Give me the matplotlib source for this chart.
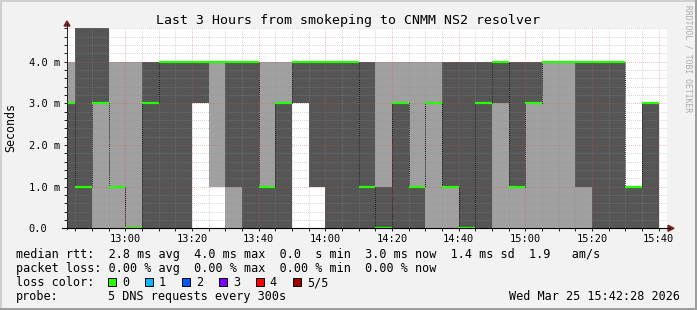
import matplotlib
matplotlib.use("Agg")
import matplotlib.pyplot as plt
from matplotlib.patches import Rectangle, Polygon
from matplotlib.lines import Line2D
import numpy as np

'''Data: smokeping DNS probe, 5 pings per 300s step'''
# step start, minutes after 12:00
step_start = list(range(40, 220, 5))
# the five sorted rtts of each step (ms), values above 4.8 are off the chart
ping_1 = [0, 0, 0, 0, 0, 0, 0, 0, 3, 1, 0, 0, 0, 0, 3, 1, 0, 0,
          0, 0, 0, 0, 0, 0, 0, 0, 0, 0, 0, 0, 0, 0, 0, 0, 0, 0]
ping_2 = [0, 0, 3, 1, 0, 0, 0, 0, 3, 4, 1, 0, 0, 0, 3, 1, 0, 0,
          0, 0, 0, 0, 3, 1, 0, 0, 3, 1, 3, 4, 4, 1, 0, 0, 0, 0]
ping_3 = [3, 1, 3, 1, 0, 3, 4, 4, 4, 4, 4, 4, 1, 3, 4, 4, 4, 4,
          1, 0, 3, 1, 3, 1, 0, 3, 4, 1, 3, 4, 4, 4, 4, 4, 1, 3]
ping_4 = [3, 5.5, 5.5, 1, 0, 4, 4, 4, 4, 4, 4, 4, 1, 3, 4, 4, 4, 4,
          4, 1, 3, 1, 3, 4, 4, 4, 4, 4, 4, 4, 4, 4, 4, 4, 1, 3]
ping_5 = [4, 5.5, 5.5, 4, 4, 4, 4, 4, 4, 4, 4, 4, 4, 4, 4, 4, 4, 4,
          4, 4, 4, 4, 4, 4, 4, 4, 4, 4, 4, 4, 4, 4, 4, 4, 1, 3]
median = ping_3

x_ticks = [60, 80, 100, 120, 140, 160, 180, 200, 220]
x_labels = ["13:00", "13:20", "13:40", "14:00", "14:20", "14:40", "15:00", "15:20", "15:40"]
y_ticks = [0, 1, 2, 3, 4]
y_labels = ["0.0", "1.0 m", "2.0 m", "3.0 m", "4.0 m"]

title = "Last 3 Hours from smokeping to CNMM NS2 resolver"
legend_lines = [
    "median rtt:  2.8 ms avg  4.0 ms max  0.0  s min  3.0 ms now  1.4 ms sd  1.9   am/s",
    "packet loss: 0.00 % avg  0.00 % max  0.00 % min  0.00 % now",
]
loss_labels = ["0", "1", "2", "3", "4", "5/5"]
loss_colors = ["#26ff00", "#00b8ff", "#0059ff", "#7e00ff", "#ff0000", "#a10000"]
probe_text = "5 DNS requests every 300s"
stamp = "Wed Mar 25 15:42:28 2026"

W, H = 697, 310
BACK = "#f2f2f2"
DARK = "#555555"
LIGHT = "#a0a0a0"


def px(x, y):
    return x / W, 1 - y / H


plt.rcParams['font.family'] = ['DejaVu Sans Mono']
fig = plt.figure(figsize=(W / 100, H / 100), dpi=100, facecolor=BACK)
ax = fig.add_axes([67 / W, (H - 228.3) / H, 600 / W, 200 / H])
ax.set_facecolor("white")

# smoke
edges = np.array(step_start + [step_start[-1] + 5])
def ext(v):
    return list(v) + [v[-1]]
ax.fill_between(edges, ext(ping_1), ext(ping_5), step='post', color=LIGHT, lw=0, zorder=1)
ax.fill_between(edges, ext(ping_2), ext(ping_4), step='post', color=DARK, lw=0, zorder=1.1)

# median line: black dotted joins, green (0 loss) steps
ax.step(edges, ext(median), where='post', color='black', lw=0.7, ls=(0, (1, 1)), zorder=2)
ax.hlines(median, edges[:-1], edges[1:], colors=loss_colors[0], lw=1.6, zorder=4)

ax.set_xlim(42 + 28 / 60, 222 + 28 / 60)
ax.set_ylim(0, 4.8)

ax.set_xticks(x_ticks)
ax.set_xticklabels(x_labels)
ax.set_xticks(np.arange(45, 221, 5), minor=True)
ax.set_yticks(y_ticks)
ax.set_yticklabels(y_labels)
ax.set_yticks(np.arange(0, 4.81, 0.2), minor=True)

ax.set_axisbelow(False)
ax.grid(which='minor', color='#8f8f8f', alpha=0.55, lw=0.7, ls=(0, (0.7, 1.4)))
ax.grid(which='major', color='#de5050', alpha=0.55, lw=0.7, ls=(0, (0.7, 1.4)))

for s in ax.spines.values():
    s.set_visible(False)
ax.tick_params(which='both', length=2, width=0.7, color='#202020', labelsize=7.45)
ax.tick_params(axis='x', which='both', pad=2)
ax.tick_params(axis='y', which='both', pad=25.7)
for lbl in ax.get_yticklabels():
    lbl.set_ha('left')

ax.set_ylabel("Seconds", fontsize=8.4)
ax.yaxis.label.set_va('center')
ax.yaxis.set_label_coords((11 - 67) / 600, (228.3 - 127.5) / 200)

# axes lines and arrows
fig.add_artist(Line2D([px(67, 0)[0]] * 2, [px(0, 229)[1], px(0, 24)[1]], color='#202020', lw=0.7))
fig.add_artist(Line2D([px(62, 0)[0], px(670, 0)[0]], [px(0, 228.3)[1]] * 2, color='black', lw=0.8))
fig.add_artist(Polygon([px(64, 26), px(70, 26), px(67, 21)], closed=True, color='#7f1f1f', transform=fig.transFigure))
fig.add_artist(Polygon([px(668, 225.3), px(668, 231.3), px(674, 228.3)], closed=True, color='#7f1f1f', transform=fig.transFigure))

# title and watermark
fig.text(*px(348, 24), title, ha='center', va='baseline', fontsize=9.55)
fig.text(*px(688, 58.5), "RRDTOOL / TOBI OETIKER", rotation=-90, ha='center', va='center',
         fontsize=5.8, color='#aaaaaa')

# legend
fig.text(*px(16, 258.3), legend_lines[0], ha='left', va='baseline', fontsize=8.5)
fig.text(*px(16, 272.3), legend_lines[1], ha='left', va='baseline', fontsize=8.5)
fig.text(*px(16, 286), "loss color:", ha='left', va='baseline', fontsize=8.5)
for i, (lab, c) in enumerate(zip(loss_labels, loss_colors)):
    bx = 108.3 + 37 * i
    x0, y0 = px(bx, 286)
    fig.add_artist(Rectangle((x0, y0), 7.7 / W, 7.7 / H, transform=fig.transFigure,
                             facecolor=c, edgecolor='black', lw=0.7))
    fig.text(*px(bx + 13.5, 286), lab, ha='left', va='baseline', fontsize=8.5)
fig.text(*px(16, 300), "probe:", ha='left', va='baseline', fontsize=8.5)
fig.text(*px(16 + 13 * 7.11, 300), probe_text, ha='left', va='baseline', fontsize=8.5)
fig.text(*px(680, 300), stamp, ha='right', va='baseline', fontsize=8.5)

# frame shading
fig.add_artist(Rectangle((0, 1 - 2 / H), 1, 2 / H, transform=fig.transFigure, color='#cfcfcf', lw=0))
fig.add_artist(Rectangle((0, 0), 2 / W, 1, transform=fig.transFigure, color='#cfcfcf', lw=0))
fig.add_artist(Rectangle((0, 0), 1, 2 / H, transform=fig.transFigure, color='#9e9e9e', lw=0))
fig.add_artist(Rectangle((1 - 2 / W, 0), 2 / W, 1, transform=fig.transFigure, color='#9e9e9e', lw=0))

fig.savefig("out.png", dpi=100, facecolor=BACK)
